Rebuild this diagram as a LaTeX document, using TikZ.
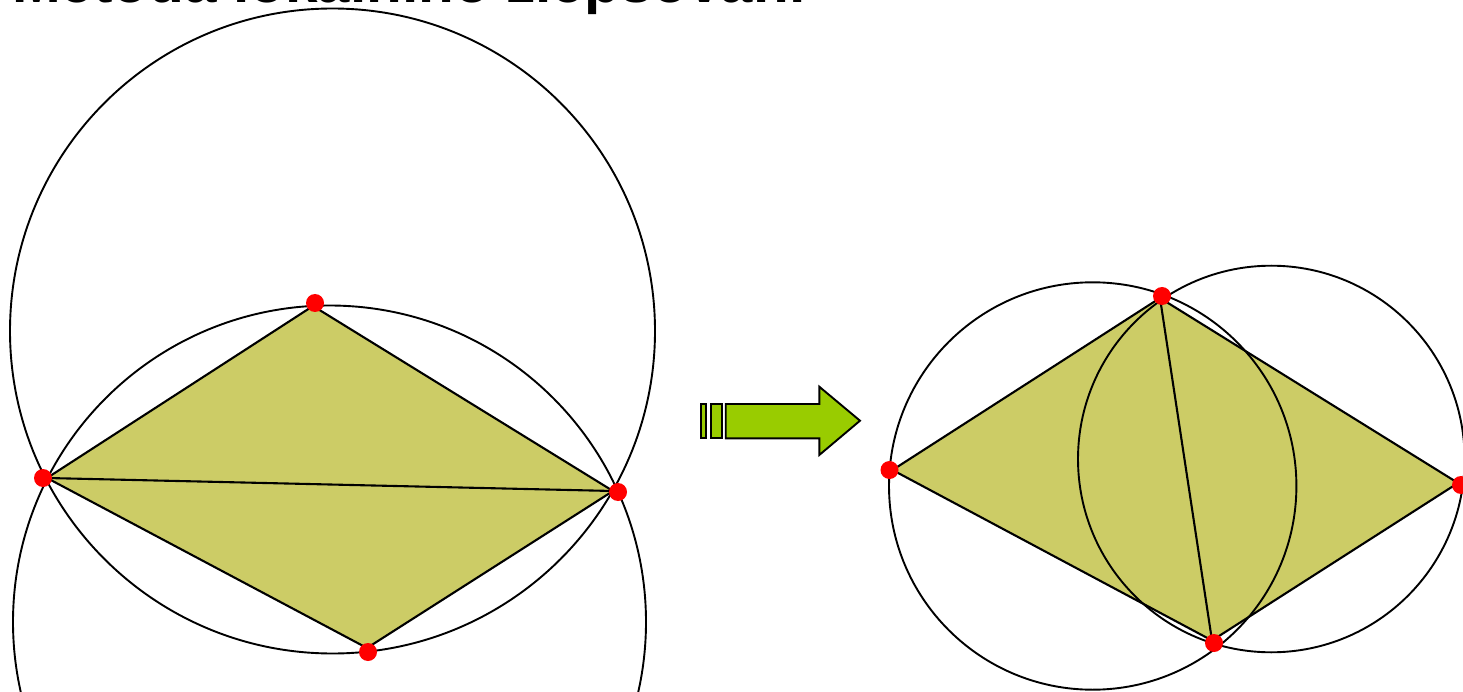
\documentclass[tikz,border=0pt]{standalone}
\usepackage{fontspec}
\setmainfont{Liberation Sans}
\definecolor{quadfill}{RGB}{204,204,102}
\definecolor{arrowfill}{RGB}{153,204,0}
\definecolor{dotred}{RGB}{255,0,0}
\tikzset{
  quad/.style={fill=quadfill, draw=black, line width=2.1pt, line join=miter},
  diag/.style={draw=black, line width=2.1pt},
  circ/.style={draw=black, line width=1.9pt},
  vdot/.style={circle, fill=dotred, inner sep=0pt, minimum size=18pt},
  arrowpart/.style={fill=arrowfill, draw=black, line width=1.9pt, line join=miter},
}
\begin{document}
\begin{tikzpicture}[x=1pt,y=-1pt]
\useasboundingbox (0,0) rectangle (1463,692);
\clip (0,0) rectangle (1463,692);

% title (clipped at top, as in the reference)
\node[anchor=base west, inner sep=0pt, font=\bfseries\fontsize{58.5}{62}\selectfont] (title) at (12,3) {Metoda lokálního zlepšování};

% ---------- left configuration ----------
\coordinate (a1) at (313,306);
\coordinate (a2) at (47,478);
\coordinate (a3) at (613,491);
\coordinate (a4) at (367,648);
\coordinate (cA) at (332.5,331);
\coordinate (cB) at (329.5,622);
\path[quad] (a1) -- (a2) -- (a4) -- (a3) -- cycle;
\draw[circ] (cA) circle[radius=322.5pt];
\draw[circ] (cB) circle[radius=316.5pt];
\draw[diag] (a2) -- (a3);
\node[vdot] (p1) at (315,303) {};
\node[vdot] (p2) at (43,478) {};
\node[vdot] (p3) at (618,492) {};
\node[vdot] (p4) at (368,652) {};

% ---------- arrow ----------
\path[arrowpart] (700.7,404) rectangle (706,438.3);
\path[arrowpart] (710.7,404) rectangle (721.7,438.3);
\path[arrowpart] (725.7,404) -- (819.3,404) -- (819.3,386.7) -- (860,420.7)
  -- (819.3,455) -- (819.3,438.3) -- (725.7,438.3) -- cycle;

% ---------- right configuration ----------
\coordinate (b1) at (1160,298);
\coordinate (b2) at (892.5,470);
\coordinate (b3) at (1458,483);
\coordinate (b4) at (1212,640.5);
\coordinate (cL) at (1092.7,486);
\coordinate (cR) at (1271.3,459);
\path[quad] (b1) -- (b2) -- (b4) -- (b3) -- cycle;
\draw[circ] (cL) circle[radius=203.7pt];
\draw[circ] (cR) circle[radius=193.3pt];
\draw[diag] (b1) -- (b4);
\node[vdot] (q1) at (1162,296) {};
\node[vdot] (q2) at (889.5,470) {};
\node[vdot] (q3) at (1461,485) {};
\node[vdot] (q4) at (1214,643) {};
\end{tikzpicture}
\end{document}
